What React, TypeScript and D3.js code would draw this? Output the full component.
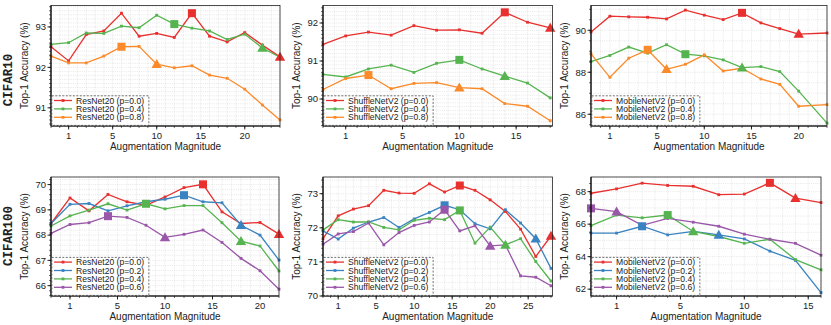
import * as d3 from "d3";

const RED = "#e8312f";
const BLUE = "#3a83c0";
const GREEN = "#55b44f";
const PURPLE = "#9a56a8";
const ORANGE = "#fb8a2a";

const tickValues = [0, 5, 10, 15, 20, 25];
const tickLabels = ["1", "5", "10", "15", "20", "25"];

// CIFAR10 / ResNet20
const c10ResX = [-2, 0, 2, 4, 6, 8, 10, 12, 14, 16, 18, 20, 22, 24];
const c10ResP00 = [92.51, 92.16, 92.81, 92.9, 93.34, 92.77, 92.84, 92.74, 93.34, 92.77, 92.63, 92.86, 92.55, 92.26];
const c10ResP04 = [92.57, 92.61, 92.85, 92.84, 93.02, 92.98, 93.29, 93.07, 92.97, 92.9, 92.69, 92.82, 92.48, 92.25];
const c10ResP08 = [92.28, 92.11, 92.11, 92.28, 92.51, 92.52, 92.08, 91.99, 92.04, 91.81, 91.73, 91.46, 91.07, 90.7];

// CIFAR10 / ShuffleNetV2
const c10ShfX = [-2, 0, 2, 4, 6, 8, 10, 12, 14, 16, 18];
const c10ShfP00 = [91.44, 91.66, 91.76, 91.68, 91.93, 91.81, 91.82, 91.73, 92.28, 92.02, 91.87];
const c10ShfP04 = [90.65, 90.58, 90.79, 90.89, 90.7, 90.94, 91.03, 90.79, 90.6, 90.42, 90.03];
const c10ShfP08 = [90.25, 90.54, 90.63, 90.27, 90.41, 90.43, 90.3, 90.27, 89.88, 89.81, 89.43];

// CIFAR10 / MobileNetV2
const c10MobX = [-2, 0, 2, 4, 6, 8, 10, 12, 14, 16, 18, 20, 23];
const c10MobP00 = [89.92, 90.67, 90.64, 90.62, 90.54, 90.96, 90.72, 90.51, 90.83, 90.35, 90.08, 89.82, 89.87];
const c10MobP04 = [88.51, 88.8, 89.2, 88.91, 89.31, 88.86, 88.78, 88.59, 88.22, 88.27, 88.03, 87.1, 85.58];
const c10MobP08 = [88.88, 87.76, 88.67, 89.07, 88.14, 88.38, 88.83, 88.06, 88.19, 87.68, 87.42, 86.38, 86.46];

// CIFAR100 / ResNet20
const c100ResX = [-2, 0, 2, 4, 6, 8, 10, 12, 14, 16, 18, 20, 22];
const c100ResP00 = [68.46, 69.47, 68.96, 69.61, 69.32, 69.18, 69.51, 69.88, 70.01, 68.92, 68.46, 68.5, 68.04];
const c100ResP02 = [68.46, 69.22, 69.25, 68.96, 69.16, 69.32, 69.42, 69.58, 69.32, 69.28, 68.39, 68.0, 67.01];
const c100ResP04 = [68.36, 68.76, 68.99, 69.24, 68.99, 69.24, 69.04, 69.17, 69.17, 68.49, 67.76, 67.57, 66.58];
const c100ResP06 = [68.07, 68.42, 68.49, 68.75, 68.7, 68.39, 67.91, 68.03, 68.2, 67.71, 67.08, 66.59, 65.86];

// CIFAR100 / ShuffleNetV2
const c100ShfX = [-2, 0, 2, 4, 6, 8, 10, 12, 14, 16, 18, 20, 22, 24, 26, 28];
const c100ShfP00 = [71.68, 72.35, 72.55, 72.65, 73.1, 73.02, 73.01, 73.29, 73.05, 73.24, 73.1, 72.82, 72.48, 71.96, 71.16, 71.76];
const c100ShfP02 = [71.91, 71.67, 71.99, 72.17, 72.3, 72.01, 72.26, 72.45, 72.66, 72.53, 72.12, 71.97, 72.53, 72.14, 71.68, 70.81];
const c100ShfP04 = [71.94, 72.24, 72.17, 72.17, 72.01, 71.94, 72.22, 72.28, 72.24, 72.51, 71.55, 72.02, 71.5, 71.68, 71.01, 70.44];
const c100ShfP06 = [71.52, 71.82, 71.89, 72.14, 71.5, 71.86, 72.07, 72.17, 72.53, 71.91, 72.06, 71.47, 71.5, 70.59, 70.55, 70.3];

// CIFAR100 / MobileNetV2
const c100MobX = [-2, 0, 2, 4, 6, 8, 10, 12, 14, 16];
const c100MobP00 = [67.9, 68.17, 68.52, 68.38, 68.33, 67.81, 67.85, 68.54, 67.6, 67.33];
const c100MobP02 = [65.45, 65.45, 65.87, 65.34, 65.55, 65.34, 65.09, 64.34, 63.77, 61.79];
const c100MobP04 = [65.91, 66.56, 66.39, 66.56, 65.55, 65.24, 64.82, 65.07, 63.82, 63.19];
const c100MobP06 = [66.97, 66.77, 65.93, 66.35, 66.12, 65.87, 65.38, 65.07, 64.82, 64.09];

type Series = { label: string; color: string; values: number[]; sq: number; tri: number };
type Panel = {
  left: number; right: number; top: number; bottom: number;
  xs: number[]; xDomain: [number, number]; yDomain: [number, number];
  yTicks: number[]; yMinor: number; series: Series[];
};

const s = (label: string, color: string, values: number[], sqX: number, triX: number, xs: number[]): Series => ({
  label, color, values, sq: xs.indexOf(sqX), tri: xs.indexOf(triX),
});

const panels: Panel[] = [
  {
    left: 51, right: 280, top: 5.5, bottom: 126, xs: c10ResX, xDomain: [-2, 24], yDomain: [90.55, 93.53],
    yTicks: [91, 92, 93], yMinor: 0.1,
    series: [
      s("ResNet20 (p=0.0)", RED, c10ResP00, 14, 24, c10ResX),
      s("ResNet20 (p=0.4)", GREEN, c10ResP04, 12, 22, c10ResX),
      s("ResNet20 (p=0.8)", ORANGE, c10ResP08, 6, 10, c10ResX),
    ],
  },
  {
    left: 323, right: 552.5, top: 5.5, bottom: 126, xs: c10ShfX, xDomain: [-2, 18.2], yDomain: [89.29, 92.46],
    yTicks: [90, 91, 92], yMinor: 0.1,
    series: [
      s("ShuffleNetV2 (p=0.0)", RED, c10ShfP00, 14, 18, c10ShfX),
      s("ShuffleNetV2 (p=0.4)", GREEN, c10ShfP04, 10, 14, c10ShfX),
      s("ShuffleNetV2 (p=0.8)", ORANGE, c10ShfP08, 2, 10, c10ShfX),
    ],
  },
  {
    left: 591, right: 827, top: 5.5, bottom: 126, xs: c10MobX, xDomain: [-2, 23], yDomain: [85.44, 91.18],
    yTicks: [86, 88, 90], yMinor: 0.5,
    series: [
      s("MobileNetV2 (p=0.0)", RED, c10MobP00, 14, 20, c10MobX),
      s("MobileNetV2 (p=0.4)", GREEN, c10MobP04, 8, 14, c10MobX),
      s("MobileNetV2 (p=0.8)", ORANGE, c10MobP08, 4, 6, c10MobX),
    ],
  },
  {
    left: 51, right: 279, top: 177, bottom: 296, xs: c100ResX, xDomain: [-2, 22], yDomain: [65.59, 70.3],
    yTicks: [66, 67, 68, 69, 70], yMinor: 0.2,
    series: [
      s("ResNet20 (p=0.0)", RED, c100ResP00, 14, 22, c100ResX),
      s("ResNet20 (p=0.2)", BLUE, c100ResP02, 12, 18, c100ResX),
      s("ResNet20 (p=0.4)", GREEN, c100ResP04, 8, 18, c100ResX),
      s("ResNet20 (p=0.6)", PURPLE, c100ResP06, 4, 10, c100ResX),
    ],
  },
  {
    left: 323, right: 552.5, top: 177, bottom: 296, xs: c100ShfX, xDomain: [-2, 28.2], yDomain: [70, 73.49],
    yTicks: [70, 71, 72, 73], yMinor: 0.2,
    series: [
      s("ShuffleNetV2 (p=0.0)", RED, c100ShfP00, 16, 28, c100ShfX),
      s("ShuffleNetV2 (p=0.2)", BLUE, c100ShfP02, 14, 26, c100ShfX),
      s("ShuffleNetV2 (p=0.4)", GREEN, c100ShfP04, 16, 22, c100ShfX),
      s("ShuffleNetV2 (p=0.6)", PURPLE, c100ShfP06, 14, 20, c100ShfX),
    ],
  },
  {
    left: 591, right: 821, top: 177, bottom: 296, xs: c100MobX, xDomain: [-2, 16], yDomain: [61.58, 68.9],
    yTicks: [62, 64, 66, 68], yMinor: 0.5,
    series: [
      s("MobileNetV2 (p=0.0)", RED, c100MobP00, 12, 14, c100MobX),
      s("MobileNetV2 (p=0.2)", BLUE, c100MobP02, 2, 8, c100MobX),
      s("MobileNetV2 (p=0.4)", GREEN, c100MobP04, 4, 6, c100MobX),
      s("MobileNetV2 (p=0.6)", PURPLE, c100MobP06, -2, 0, c100MobX),
    ],
  },
];

const FONT = "'Liberation Sans', Arial, Helvetica, sans-serif";
const LEG_FS = 8.6;

let ctx: CanvasRenderingContext2D | null = null;
function textWidth(t: string, size: number) {
  if (!ctx) ctx = document.createElement("canvas").getContext("2d");
  if (!ctx) return t.length * size * 0.52;
  ctx.font = `${size}px 'Liberation Sans'`;
  return ctx.measureText(t).width;
}

function PanelView({ p }: { p: Panel }) {
  const x = d3.scaleLinear().domain(p.xDomain).range([p.left, p.right]);
  const y = d3.scaleLinear().domain(p.yDomain).range([p.bottom, p.top]);
  const xMinor = d3.range(Math.ceil(p.xDomain[0]), p.xDomain[1] + 0.001, 1);
  const yMinor = d3.range(Math.ceil(p.yDomain[0] / p.yMinor) * p.yMinor, p.yDomain[1], p.yMinor);
  const xt = tickValues.filter((v) => v <= p.xDomain[1]);
  const line = d3
    .line<number>()
    .x((_, i) => x(p.xs[i]))
    .y((v) => y(v));

  const rowH = 8.4;
  const legH = p.series.length * rowH + 5;
  const maxW = d3.max(p.series, (sr) => textWidth(sr.label, LEG_FS)) ?? 70;
  const legW = 25 + maxW + 4;
  const legTop = p.bottom - legH;

  return (
    <g>
      {xMinor.map((v) => (
        <line key={"gx" + v} x1={x(v)} x2={x(v)} y1={p.top} y2={p.bottom} stroke="#cfcfcf" strokeWidth={0.5} strokeDasharray="1,1.2" />
      ))}
      {yMinor.map((v) => (
        <line key={"gy" + v} x1={p.left} x2={p.right} y1={y(v)} y2={y(v)} stroke="#cfcfcf" strokeWidth={0.5} strokeDasharray="1,1.2" />
      ))}
      {p.series.map((sr) => (
        <path key={"l" + sr.label} d={line(sr.values) ?? ""} fill="none" stroke={sr.color} strokeWidth={1.3} />
      ))}
      {p.series.map((sr) =>
        sr.values.map((v, i) => (
          <rect key={sr.label + "m" + i} x={x(p.xs[i]) - 1.4} y={y(v) - 1.4} width={2.8} height={2.8} fill={sr.color} />
        ))
      )}
      {p.series.map((sr) => {
        const sx = x(p.xs[sr.sq]);
        const sy = y(sr.values[sr.sq]);
        const tx = x(p.xs[sr.tri]);
        const ty = y(sr.values[sr.tri]);
        return (
          <g key={"big" + sr.label}>
            <rect x={sx - 4} y={sy - 4} width={8} height={8} fill={sr.color} />
            <path d={`M${tx},${ty - 5.2} L${tx + 5.2},${ty + 3.8} L${tx - 5.2},${ty + 3.8} Z`} fill={sr.color} />
          </g>
        );
      })}
      <rect x={p.left} y={p.top} width={p.right - p.left} height={p.bottom - p.top} fill="none" stroke="#222" strokeWidth={0.8} />
      <line x1={p.left} x2={p.left} y1={p.top} y2={p.bottom} stroke="#111" strokeWidth={1.2} />
      <line x1={p.left} x2={p.right} y1={p.bottom} y2={p.bottom} stroke="#111" strokeWidth={1.2} />
      {yMinor.map((v) => (
        <line key={"ty" + v} x1={p.left - 2} x2={p.left} y1={y(v)} y2={y(v)} stroke="#111" strokeWidth={0.6} />
      ))}
      {p.yTicks.map((v) => (
        <g key={"yt" + v}>
          <line x1={p.left - 3.5} x2={p.left} y1={y(v)} y2={y(v)} stroke="#111" strokeWidth={0.9} />
          <text x={p.left - 5} y={y(v)} dy="0.35em" textAnchor="end" fontSize={9.5} fontFamily={FONT} fill="#222">
            {v}
          </text>
        </g>
      ))}
      {xMinor.map((v) => (
        <line key={"tx" + v} x1={x(v)} x2={x(v)} y1={p.bottom} y2={p.bottom + 2} stroke="#111" strokeWidth={0.6} />
      ))}
      {xt.map((v) => (
        <g key={"xt" + v}>
          <line x1={x(v)} x2={x(v)} y1={p.bottom} y2={p.bottom + 3.5} stroke="#111" strokeWidth={0.9} />
          <text x={x(v)} y={p.bottom + 13} textAnchor="middle" fontSize={9.5} fontFamily={FONT} fill="#222">
            {tickLabels[tickValues.indexOf(v)]}
          </text>
        </g>
      ))}
      <text x={(p.left + p.right) / 2} y={p.bottom + 23.5} textAnchor="middle" fontSize={10} fontFamily={FONT} fill="#222">
        Augmentation Magnitude
      </text>
      <text
        transform={`translate(${p.left - 23},${(p.top + p.bottom) / 2}) rotate(-90)`}
        textAnchor="middle"
        fontSize={10}
        fontFamily={FONT}
        fill="#222"
      >
        Top-1 Accuracy (%)
      </text>
      <rect x={p.left + 0.8} y={legTop} width={legW} height={legH - 0.6} fill="white" fillOpacity={0.85} stroke="#333" strokeWidth={0.7} strokeDasharray="2,1.5" />
      {p.series.map((sr, i) => {
        const ry = legTop + 4.7 + rowH * i;
        return (
          <g key={"lg" + sr.label}>
            <line x1={p.left + 3} x2={p.left + 21} y1={ry} y2={ry} stroke={sr.color} strokeWidth={1.3} />
            <rect x={p.left + 10.6} y={ry - 1.4} width={2.8} height={2.8} fill={sr.color} />
            <text x={p.left + 25} y={ry} dy="0.35em" fontSize={LEG_FS} fontFamily={FONT} fill="#222">
              {sr.label}
            </text>
          </g>
        );
      })}
    </g>
  );
}

export default function App() {
  return (
    <svg width={831} height={325} style={{ position: "absolute", left: 0, top: 0, background: "white" }}>
      {panels.map((p, i) => (
        <PanelView key={i} p={p} />
      ))}
      <text transform="translate(12,80) rotate(-90)" textAnchor="middle" fontSize={12.5} fontWeight="bold" fontFamily="'Liberation Mono', 'DejaVu Sans Mono', monospace" fill="#222">
        CIFAR10
      </text>
      <text transform="translate(12,236) rotate(-90)" textAnchor="middle" fontSize={12.5} fontWeight="bold" fontFamily="'Liberation Mono', 'DejaVu Sans Mono', monospace" fill="#222">
        CIFAR100
      </text>
    </svg>
  );
}
